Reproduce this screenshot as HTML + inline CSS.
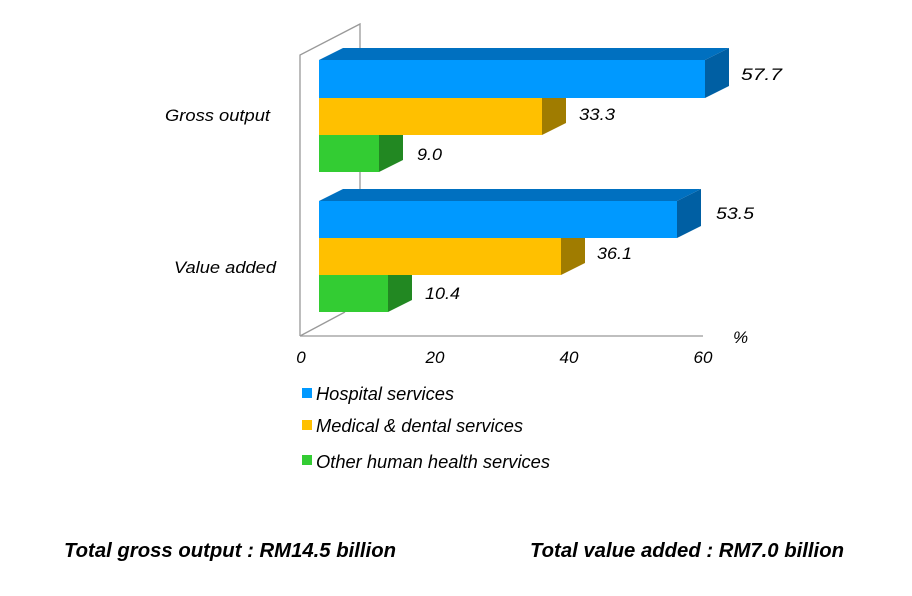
<!DOCTYPE html>
<html><head><style>
body{margin:0;background:#fff;}
svg text{font-family:"Liberation Sans",Arial,sans-serif;font-style:italic;fill:#000;}
</style></head><body>
<svg width="912" height="591" viewBox="0 0 912 591" xmlns="http://www.w3.org/2000/svg">
<g stroke="#999" stroke-width="1.3" fill="none">
<polyline points="300,336 300,55 360,24 360,190"/>
<line x1="300" y1="336" x2="703" y2="336"/>
<line x1="300" y1="336" x2="345" y2="312"/>
</g>
<g>
<polygon points="379,135 403,123 403,160 379,172" fill="#228822"/>
<rect x="319" y="135" width="60" height="37" fill="#33cc33"/>
<polygon points="542,98 566,86 566,123 542,135" fill="#a07c00"/>
<rect x="319" y="98" width="223" height="37" fill="#ffc000"/>
<polygon points="319,60 343,48 729,48 705,60" fill="#0070c0"/>
<polygon points="705,60 729,48 729,86 705,98" fill="#005fa3"/>
<rect x="319" y="60" width="386" height="38" fill="#0099ff"/>
<polygon points="388,275 412,263 412,300 388,312" fill="#228822"/>
<rect x="319" y="275" width="69" height="37" fill="#33cc33"/>
<polygon points="561,238 585,226 585,263 561,275" fill="#a07c00"/>
<rect x="319" y="238" width="242" height="37" fill="#ffc000"/>
<polygon points="319,201 343,189 701,189 677,201" fill="#0070c0"/>
<polygon points="677,201 701,189 701,226 677,238" fill="#005fa3"/>
<rect x="319" y="201" width="358" height="37" fill="#0099ff"/>
</g>
<g font-size="17" lengthAdjust="spacingAndGlyphs">
<text x="741" y="80" textLength="41" lengthAdjust="spacingAndGlyphs">57.7</text>
<text x="579" y="120" textLength="36" lengthAdjust="spacingAndGlyphs">33.3</text>
<text x="417" y="160" textLength="25" lengthAdjust="spacingAndGlyphs">9.0</text>
<text x="716" y="219" textLength="38" lengthAdjust="spacingAndGlyphs">53.5</text>
<text x="597" y="259" textLength="35" lengthAdjust="spacingAndGlyphs">36.1</text>
<text x="425" y="299" textLength="35" lengthAdjust="spacingAndGlyphs">10.4</text>
<text x="165" y="121" textLength="105" lengthAdjust="spacingAndGlyphs">Gross output</text>
<text x="174" y="273" textLength="102" lengthAdjust="spacingAndGlyphs">Value added</text>
<text x="733" y="343">%</text>
<text x="301" y="363" text-anchor="middle">0</text>
<text x="435" y="363" text-anchor="middle">20</text>
<text x="569" y="363" text-anchor="middle">40</text>
<text x="703" y="363" text-anchor="middle">60</text>
</g>
<rect x="302" y="388" width="10" height="10" fill="#0099ff"/>
<rect x="302" y="420" width="10" height="10" fill="#ffc000"/>
<rect x="302" y="455" width="10" height="10" fill="#33cc33"/>
<g font-size="18">
<text x="316" y="400" textLength="138" lengthAdjust="spacingAndGlyphs">Hospital services</text>
<text x="316" y="432" textLength="207" lengthAdjust="spacingAndGlyphs">Medical &amp; dental services</text>
<text x="316" y="468" textLength="234" lengthAdjust="spacingAndGlyphs">Other human health services</text>
</g>
<g font-size="20" font-weight="bold">
<text x="64" y="557" textLength="332" lengthAdjust="spacingAndGlyphs">Total gross output : RM14.5 billion</text>
<text x="530" y="557" textLength="314" lengthAdjust="spacingAndGlyphs">Total value added : RM7.0 billion</text>
</g>
</svg>
</body></html>
